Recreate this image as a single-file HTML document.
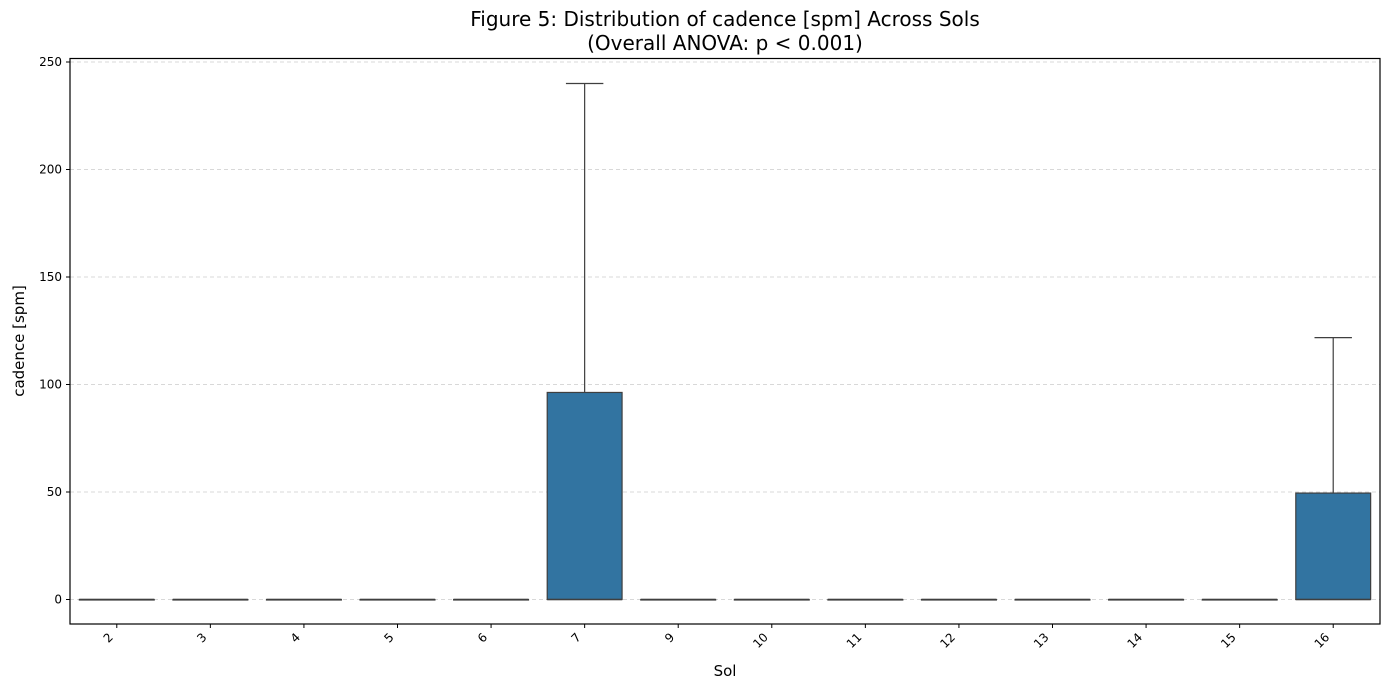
<!DOCTYPE html>
<html><head><meta charset="utf-8"><style>
body{margin:0;background:#fff;font-family:"Liberation Sans","DejaVu Sans",sans-serif}
svg{display:block}
</style></head><body>
<svg id="chart" width="1389" height="690" xmlns="http://www.w3.org/2000/svg">
<text x="725" y="26" font-size="20" text-anchor="middle" font-family="DejaVu Sans, sans-serif">Figure 5: Distribution of cadence [spm] Across Sols</text>
<text x="725" y="50" font-size="20" text-anchor="middle" font-family="DejaVu Sans, sans-serif">(Overall ANOVA: p &lt; 0.001)</text>
<text transform="translate(24,341) rotate(-90)" font-size="15" text-anchor="middle" font-family="DejaVu Sans, sans-serif">cadence [spm]</text>
<text x="725" y="676" font-size="15" text-anchor="middle" font-family="DejaVu Sans, sans-serif">Sol</text>
<g id="grid"></g><g id="marks"></g><g id="axes"></g>
</svg>
<script>
const categories=["2","3","4","5","6","7","9","10","11","12","13","14","15","16"];
const q1Vals=[0,0,0,0,0,0,0,0,0,0,0,0,0,0];
const medianVals=[0,0,0,0,0,0,0,0,0,0,0,0,0,0];
const q3Vals=[0,0,0,0,0,96.3,0,0,0,0,0,0,0,49.5];
const whiskerLow=[0,0,0,0,0,0,0,0,0,0,0,0,0,0];
const whiskerHigh=[0,0,0,0,0,240,0,0,0,0,0,0,0,121.8];
const yTicks=[0,50,100,150,200,250];

const L=70,R=1380,T=58.5,B=624;
const step=(R-L)/categories.length;
const xC=i=>L+step*(i+0.5);
const y=v=>599.5-v*2.15;
const NS="http://www.w3.org/2000/svg";
function mk(tag,attrs,parent){const e=document.createElementNS(NS,tag);for(const k in attrs)e.setAttribute(k,attrs[k]);parent.appendChild(e);return e;}
const grid=document.getElementById('grid'),marks=document.getElementById('marks'),axes=document.getElementById('axes');

yTicks.forEach(t=>{
  const g=mk('line',{x1:L,x2:R,y1:y(t),y2:y(t),stroke:'#ccc','stroke-dasharray':'4,3','stroke-width':0.8},grid);
  
  
  const tk=mk('line',{x1:L-4,x2:L,y1:y(t),y2:y(t),stroke:'#000','stroke-width':1},axes);
  
  
  const lb=mk('text',{x:L-8,y:y(t)+4,'font-size':12,'text-anchor':'end','font-family':'DejaVu Sans, sans-serif'},axes);
  lb.textContent=t;
  
  
});

categories.forEach((c,i)=>{
  const cx=xC(i),w=step*0.8,cap=w/2;
  const g=mk('g',{},marks);
  
  
  if(whiskerHigh[i]>q3Vals[i]){
    mk('line',{x1:cx,x2:cx,y1:y(q3Vals[i]),y2:y(whiskerHigh[i]),stroke:'#3f3f3f','stroke-width':1.2},g);
    mk('line',{x1:cx-cap/2,x2:cx+cap/2,y1:y(whiskerHigh[i]),y2:y(whiskerHigh[i]),stroke:'#3f3f3f','stroke-width':1.2},g);
  }
  const h=y(q1Vals[i])-y(q3Vals[i]);
  mk('rect',{x:cx-w/2,y:y(q3Vals[i]),width:w,height:Math.max(h,0.5),fill:'#3274a1',stroke:'#3f3f3f','stroke-width':1.2},g);
  mk('line',{x1:cx-w/2,x2:cx+w/2,y1:y(medianVals[i]),y2:y(medianVals[i]),stroke:'#3f3f3f','stroke-width':1.5},g);
  const tk=mk('line',{x1:cx,x2:cx,y1:B,y2:B+4,stroke:'#000','stroke-width':1},axes);
  
  
  const lb=mk('text',{transform:`translate(${cx-3},${B+14}) rotate(-45)`,'font-size':12,'text-anchor':'end','font-family':'DejaVu Sans, sans-serif'},axes);
  lb.textContent=c;
  
  
});
const fr=mk('rect',{x:L,y:T,width:R-L,height:B-T,fill:'none',stroke:'#000','stroke-width':1.2},axes);


</script>
</body></html>
